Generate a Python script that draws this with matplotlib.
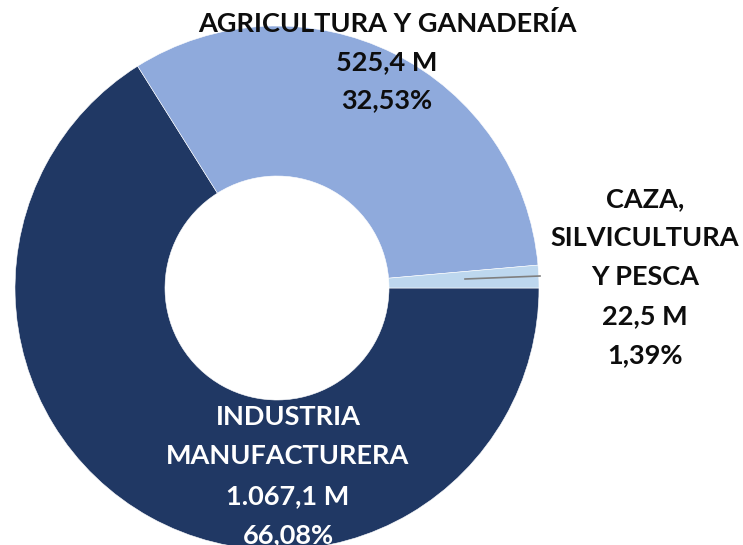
import matplotlib.pyplot as plt

# sector shares of the economy (millions)
categories = ["INDUSTRIA\nMANUFACTURERA", "AGRICULTURA Y GANADERÍA",
              "CAZA,\nSILVICULTURA\nY PESCA"]
amounts = [1067.1, 525.4, 22.5]
amount_labels = ["1.067,1 M", "525,4 M", "22,5 M"]
pct_labels = ["66,08%", "32,53%", "1,39%"]
colors = ["#203864", "#8FAADC", "#BDD7EE"]

W, H = 743, 545

fig = plt.figure(figsize=(W / 100, H / 100), dpi=100)
ax = fig.add_axes([0, 0, 1, 1])

cx, cy = 277, H - 288
outer_r = 262
inner_r = 112

ax.pie(
    amounts,
    colors=colors,
    startangle=0,
    counterclock=False,
    radius=outer_r,
    center=(cx, cy),
    wedgeprops=dict(width=outer_r - inner_r, edgecolor="white", linewidth=0.4),
    frame=True,
)
ax.set_xlim(0, W)
ax.set_ylim(0, H)
ax.set_aspect("equal")
ax.axis("off")

# leader line for the thin slice
ax.plot([465, 540], [H - 279, H - 276], color="#7f7f7f", lw=1.2)

font = dict(family=["Lato", "DejaVu Sans"], fontweight="bold", fontsize=19.5,
            ha="center", va="center")


def put_lines(x, y0, lines, step, color):
    for i, line in enumerate(lines):
        ax.text(x, H - (y0 + i * step), line, color=color, **font)


put_lines(387, 24, categories[1].split("\n") + [amount_labels[1], pct_labels[1]],
          38, "#0d0d0d")
put_lines(645, 199, categories[2].split("\n") + [amount_labels[2], pct_labels[2]],
          39, "#0d0d0d")
put_lines(288, 417, categories[0].split("\n") + [amount_labels[0], pct_labels[0]],
          39.5, "white")

fig.savefig("out.png", dpi=100)
